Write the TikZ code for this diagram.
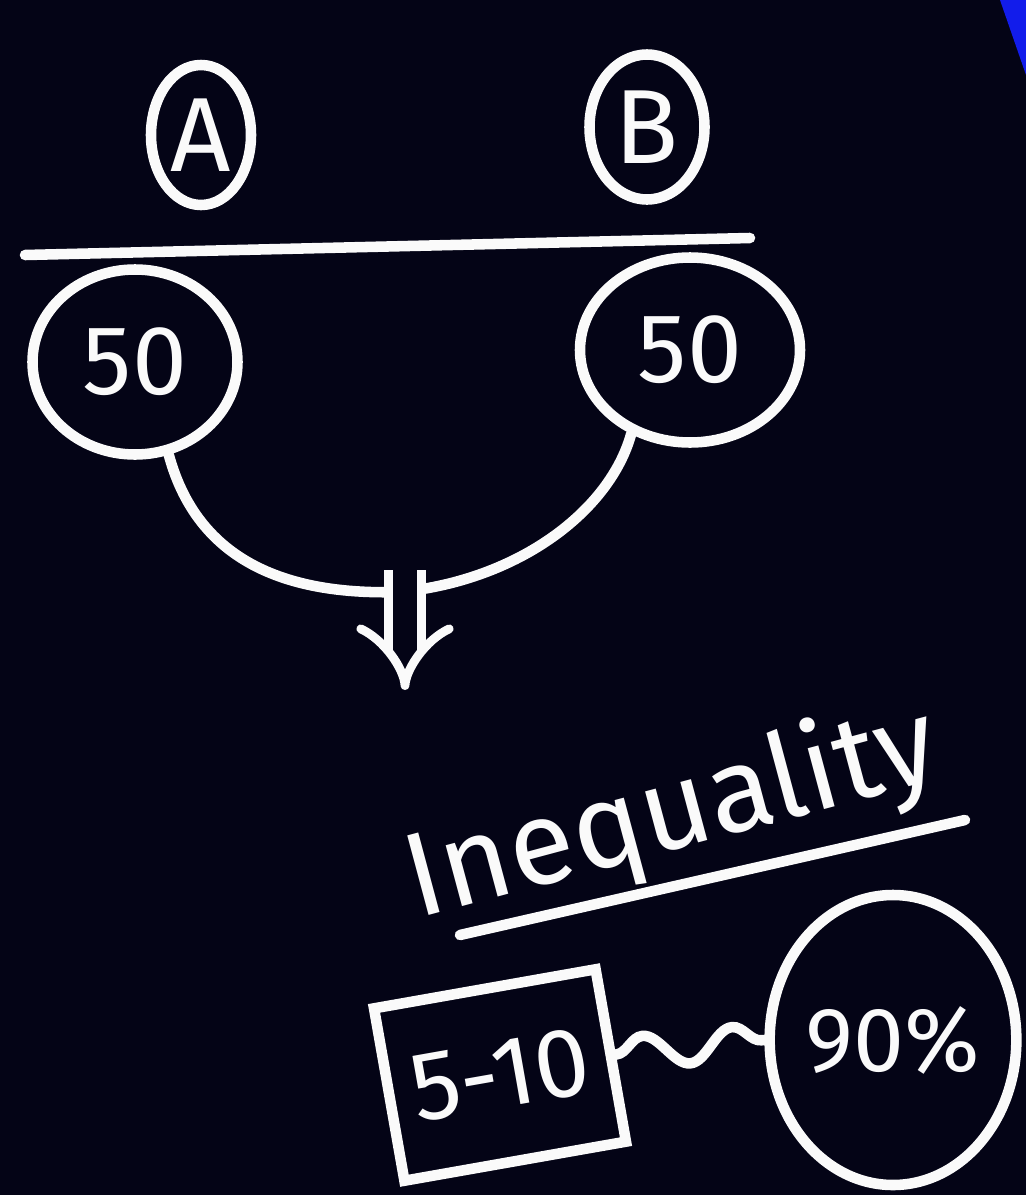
\documentclass[tikz,border=0pt]{standalone}
\usepackage{fontspec}
\setmainfont{Fira Sans}
\usetikzlibrary{shapes.geometric, arrows.meta, positioning, calc, decorations.pathmorphing}
\definecolor{boardbg}{RGB}{4, 4, 22}
\definecolor{chalk}{RGB}{250, 250, 250}
\definecolor{cornerblue}{RGB}{18, 28, 235}
\tikzset{
  inkline/.style={draw=chalk, line width=3pt, line cap=round},
  groupblob/.style={
    ellipse, draw=chalk, line width=3pt, text=chalk, inner sep=0pt,
    font=\fontsize{30}{34}\selectfont
  },
  shareblob/.style={groupblob, font=\fontsize{28}{32}\selectfont},
  gapbox/.style={
    rectangle, draw=chalk, line width=3pt, text=chalk, inner sep=0pt,
    font=\fontsize{28}{32}\selectfont
  },
  titletext/.style={text=chalk, inner sep=2pt, font=\fontsize{34}{40}\selectfont},
  impline/.style={
    draw=chalk, line width=2.5pt, double=boardbg, double distance=7pt,
    -{Implies}
  },
  wavyline/.style={
    inkline, decorate, decoration={snake, amplitude=1.6mm, segment length=9mm}
  }
}
\begin{document}
\begin{tikzpicture}

  % Board
  \fill[boardbg] (0,0) rectangle (10.26,-11.95);
  \useasboundingbox (0,0) rectangle (10.26,-11.95);
  \fill[cornerblue] (10.0,0) -- (10.26,0) -- (10.26,-0.75) -- cycle;

  % Two groups
  \node[groupblob, minimum width=1.0cm, minimum height=1.4cm] (grpA) at (2.01,-1.35) {A};
  \node[groupblob, minimum width=1.15cm, minimum height=1.45cm] (grpB) at (6.47,-1.27) {B};

  % Divider
  \coordinate (divL) at (0.25,-2.55);
  \coordinate (divR) at (7.50,-2.38);
  \draw[inkline] (divL) -- (divR);

  % Shares
  \node[shareblob, minimum width=2.05cm, minimum height=1.85cm] (shareA) at (1.35,-3.62) {50};
  \node[shareblob, minimum width=2.2cm, minimum height=1.85cm] (shareB) at (6.90,-3.50) {50};

  % Joining curve
  \coordinate (dip) at (4.05,-5.70);
  \coordinate (arrowtip) at (4.05,-6.90);
  \draw[inkline] (shareA.-70) .. controls (2.0,-5.7) and (3.0,-5.95) .. (4.0,-5.92)
    .. controls (5.2,-5.8) and (6.1,-5.1) .. (shareB.-125);
  \draw[impline] (dip) -- (arrowtip);

  % Result
  \node[titletext, rotate=15] (ineq) at (6.72,-8.15) {Inequality};
  \draw[inkline] ($(ineq.center)+(-2.12,-1.20)$) -- ($(ineq.center)+(2.93,-0.05)$);

  \node[gapbox, rotate=10, minimum width=2.25cm, minimum height=1.75cm] (gap) at (5.0,-10.75) {5-10};
  \node[groupblob, minimum width=2.35cm, minimum height=2.9cm,
        font=\fontsize{26}{30}\selectfont] (top) at (8.93,-10.40) {90\%};
  \draw[wavyline] (gap.east) -- (top.west);

\end{tikzpicture}
\end{document}
